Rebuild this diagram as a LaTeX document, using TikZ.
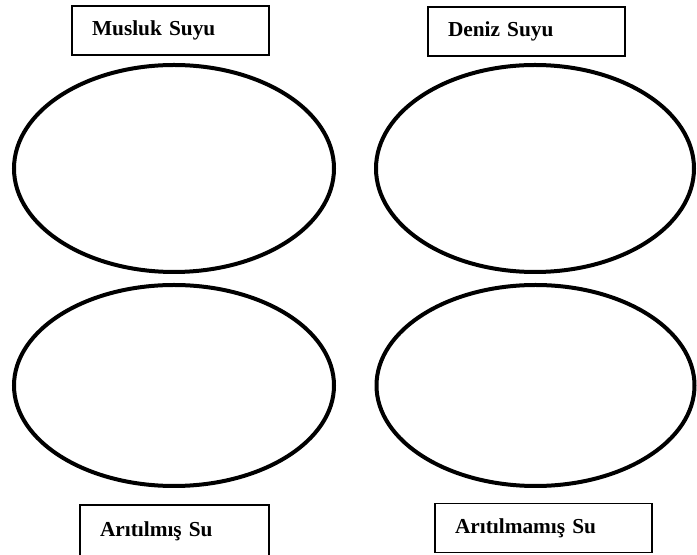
\documentclass[tikz,border=0pt]{standalone}
\usepackage{fontspec}
\setmainfont{Liberation Serif}
\usepackage{tikz}
\usetikzlibrary{shapes.geometric}

\begin{document}
\begin{tikzpicture}[
    	x=0.75pt, y=-0.75pt,
    	labelbox/.style={draw, line width=1.1pt, inner xsep=15pt, inner ysep=0pt,
    	  minimum height=37pt, align=left, font=\fontsize{16}{19}\selectfont\bfseries},
    	pool/.style={draw, ellipse, line width=3pt, inner sep=0pt}
	]
	  \useasboundingbox (0,0) rectangle (697,555);
	  % top row
	  \node[labelbox, text width=117.75pt] (musluk) at (170.5,30.5) {Musluk Suyu};
	  \node[labelbox, text width=117.75pt] (deniz) at (526.5,31.5) {Deniz Suyu};
	  \node[pool, minimum width=240pt, minimum height=155.25pt] (muslukset) at (174,168.5) {};
	  \node[pool, minimum width=238.5pt, minimum height=155.25pt] (denizset) at (535,168.5) {};
	  % bottom row
	  \node[pool, minimum width=240pt, minimum height=150.75pt] (aritset) at (174,385.5) {};
	  \node[pool, minimum width=238.5pt, minimum height=150.75pt] (hamset) at (535.5,385.5) {};
	  \node[labelbox, text width=111.75pt, minimum height=39pt] (arit) at (174.5,531) {Arıtılmış Su};
	  \node[labelbox, text width=132.75pt] (ham) at (543.5,528) {Arıtılmamış Su};
    \end{tikzpicture}
\end{document}
